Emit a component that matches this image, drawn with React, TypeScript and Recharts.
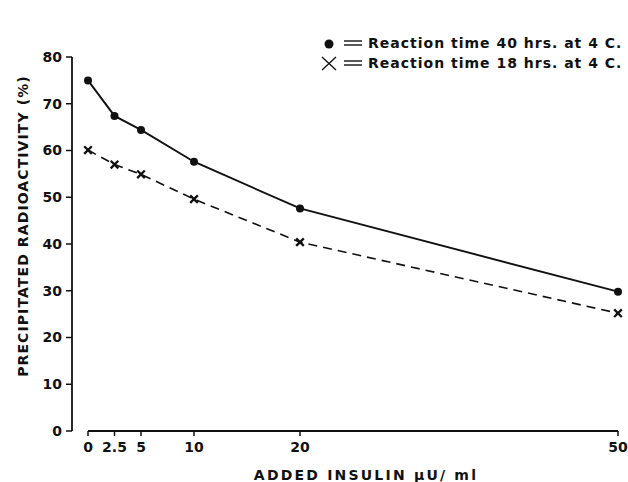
import React from 'react';
import { LineChart, Line, XAxis, YAxis, ReferenceLine, Legend } from 'recharts';

const doses = [0, 2.5, 5, 10, 20, 50];
const pct40h = [75, 67.4, 64.4, 57.6, 47.6, 29.8];
const pct18h = [60.1, 57.0, 54.9, 49.6, 40.4, 25.2];
const xTicks = [0, 2.5, 5, 10, 20, 50];
const yTicks = [0, 10, 20, 30, 40, 50, 60, 70, 80];
const label40 = 'Reaction time 40 hrs. at 4 C.';
const label18 = 'Reaction time 18 hrs. at 4 C.';
const xTitle = 'ADDED INSULIN \u03bcU/ ml';
const yTitle = 'PRECIPITATED RADIOACTIVITY (%)';

const data = doses.map((d, i) => ({ dose: d, h40: pct40h[i], h18: pct18h[i] }));

const FONT = '"DejaVu Sans", sans-serif';
const INK = '#111';

const DotMark = (props: any) => {
  const { cx, cy } = props;
  if (cx == null || cy == null) return null;
  return <circle cx={cx} cy={cy} r={4} fill={INK} />;
};

const CrossMark = (props: any) => {
  const { cx, cy } = props;
  if (cx == null || cy == null) return null;
  const s = 3.8;
  return (
    <g stroke={INK} strokeWidth={2.3}>
      <line x1={cx - s} y1={cy - s} x2={cx + s} y2={cy + s} />
      <line x1={cx - s} y1={cy + s} x2={cx + s} y2={cy - s} />
    </g>
  );
};

const LegendBox = () => (
  <div style={{ fontFamily: FONT, fontWeight: 'bold', fontSize: 14, color: INK, letterSpacing: 1.0, lineHeight: '20px' }}>
    {[label40, label18].map((t, i) => (
      <div key={t} style={{ display: 'flex', alignItems: 'center', whiteSpace: 'nowrap', height: 20 }}>
        <svg width={16} height={16} style={{ marginRight: 6 }}>
          {i === 0 ? (
            <circle cx={8} cy={9} r={4.5} fill={INK} />
          ) : (
            <g stroke={INK} strokeWidth={1.3}>
              <line x1={1} y1={2} x2={15} y2={15} />
              <line x1={1} y1={15} x2={15} y2={2} />
            </g>
          )}
        </svg>
        <svg width={20} height={16} style={{ marginRight: 5 }}>
          <g stroke={INK} strokeWidth={1.4}>
            <line x1={1} y1={6} x2={19} y2={6} />
            <line x1={1} y1={10} x2={19} y2={10} />
          </g>
        </svg>
        <span>{t}</span>
      </div>
    ))}
  </div>
);

const YTitle = () => (
  <text
    x={23}
    y={226}
    transform="rotate(-90 23 226)"
    textAnchor="middle"
    dominantBaseline="central"
    fontFamily={FONT}
    fontWeight="bold"
    fontSize={14}
    letterSpacing={1.1}
    fill={INK}
  >
    {yTitle}
  </text>
);

const XTitle = () => (
  <text
    x={366}
    y={475}
    textAnchor="middle"
    dominantBaseline="central"
    fontFamily={FONT}
    fontWeight="bold"
    fontSize={14}
    letterSpacing={2.2}
    fill={INK}
  >
    {xTitle}
  </text>
);

export default function App() {
  return (
    <div style={{ position: 'absolute', left: 0, top: 0, background: '#fff' }}>
      <LineChart width={628} height={482} data={data} margin={{ top: 17, right: 10, left: 0, bottom: 0 }}>
        <XAxis
          dataKey="dose"
          type="number"
          domain={[0, 50]}
          ticks={xTicks}
          padding={{ left: 16, right: 0 }}
          axisLine={false}
          tickLine={{ stroke: INK, strokeWidth: 1.5 }}
          tickSize={5}
          tickMargin={6}
          height={51}
          interval={0}
          tick={{ fontFamily: FONT, fontWeight: 'bold', fontSize: 14, fill: INK }}
          label={<XTitle />}
        />
        <YAxis
          type="number"
          domain={[0, 80]}
          ticks={yTicks}
          width={72}
          axisLine={{ stroke: INK, strokeWidth: 1.8 }}
          tickLine={{ stroke: INK, strokeWidth: 1.5 }}
          tickSize={6}
          tickMargin={4}
          tick={{ fontFamily: FONT, fontWeight: 'bold', fontSize: 14, fill: INK }}
          label={<YTitle />}
        />
        <ReferenceLine
          segment={[{ x: 0, y: 0 }, { x: 50, y: 0 }]}
          stroke={INK}
          strokeWidth={1.8}
          ifOverflow="visible"
        />
        <Legend
          verticalAlign="top"
          align="right"
          content={<LegendBox />}
          wrapperStyle={{ position: 'absolute', top: 33, left: 321, width: 307 }}
        />
        <Line
          type="linear"
          dataKey="h40"
          stroke={INK}
          strokeWidth={1.9}
          dot={<DotMark />}
          activeDot={false}
          isAnimationActive={false}
        />
        <Line
          type="linear"
          dataKey="h18"
          stroke={INK}
          strokeWidth={1.6}
          strokeDasharray="9 6"
          dot={<CrossMark />}
          activeDot={false}
          isAnimationActive={false}
        />
      </LineChart>
    </div>
  );
}
